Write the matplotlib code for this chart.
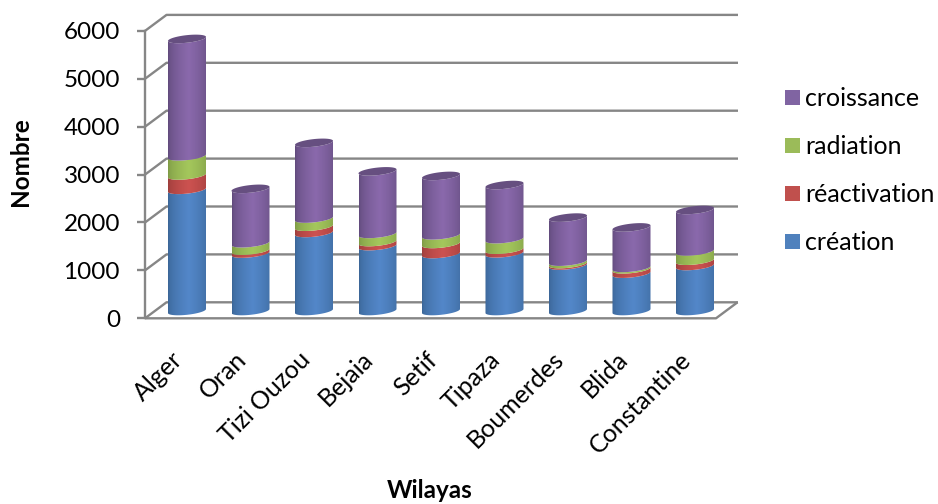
import numpy as np
import matplotlib
matplotlib.use("Agg")
import matplotlib.pyplot as plt
from matplotlib.colors import to_rgb
from matplotlib.patches import Polygon, Rectangle
from matplotlib.path import Path
from matplotlib.transforms import ScaledTranslation

# Enterprise movements per wilaya
wilayas = ["Alger", "Oran", "Tizi Ouzou", "Bejaia", "Setif", "Tipaza",
           "Boumerdes", "Blida", "Constantine"]
creation = [2530, 1200, 1630, 1355, 1190, 1205, 950, 780, 940]
reactivation = [300, 60, 130, 85, 210, 75, 30, 90, 110]
radiation = [400, 155, 170, 170, 180, 220, 50, 30, 195]
croissance = [2450, 1135, 1580, 1305, 1240, 1130, 920, 845, 865]

series_names = ["création", "réactivation", "radiation", "croissance"]
series_values = [creation, reactivation, radiation, croissance]
edge_colors = ["#3A6596", "#9C3D3B", "#7D9945", "#604A7B"]
mid_colors = ["#5387C9", "#CC5250", "#A4C75C", "#8A69AC"]
legend_colors = ["#4F81BD", "#C0504D", "#9BBB59", "#8064A2"]
cap_color = "#664F80"
grid_color = "#868686"

FONT = "Lato"
W, H = 938, 504

fig = plt.figure(figsize=(W / 100, H / 100), dpi=100)
ax = fig.add_axes([145 / W, 1 - 318.3 / H, (738 - 145) / W, (318.3 - 14) / H])

PX_X = 63.5            # pixels per category
PX_Y = 0.0479          # pixels per unit of value
ax.set_xlim((145 - 187) / PX_X, (738 - 187) / PX_X)
ax.set_ylim(0, (318.3 - 14) / PX_Y)

# Depth of the floor and walls, in data units
depth_x = 21.5 / PX_X
depth_y = 16 / PX_Y
front_end = (716 - 187) / PX_X
x0 = ax.get_xlim()[0]

# Walls and floor
line_kw = dict(color=grid_color, lw=1.7, clip_on=False, solid_capstyle="butt", zorder=1)
for v in range(0, 7000, 1000):
    ax.plot([x0, x0 + depth_x, ax.get_xlim()[1]],
            [v, v + depth_y, v + depth_y], **line_kw)
ax.plot([x0, front_end, front_end + depth_x], [0, 0, depth_y], **line_kw)

# Cylinder geometry
radius = 19 / PX_X
minor = 3.8 / PX_Y
tilt = 2.0 / PX_Y
base = 7.3 / PX_Y


def lower_arc(cx, cy, reverse=False):
    t = np.linspace(0, np.pi, 40)
    if reverse:
        t = t[::-1]
    return np.column_stack([cx + radius * np.cos(t),
                            cy + tilt * np.cos(t) - minor * np.sin(t)])


def shaded(edge, mid):
    e, m = np.array(to_rgb(edge)), np.array(to_rgb(mid))
    s = np.linspace(0, 1, 64)
    w = np.clip(1 - np.abs(s - 0.55) / 0.55, 0, 1) ** 0.55
    return (e + (m - e) * w[:, None])[None, :, :]


bottoms = np.zeros(len(wilayas))
for values, edge, mid in zip(series_values, edge_colors, mid_colors):
    values = np.asarray(values, dtype=float)
    tops = bottoms + values
    for i in range(len(wilayas)):
        low = lower_arc(i, bottoms[i] + base)
        high = lower_arc(i, tops[i] + base, reverse=True)
        outline = np.vstack([low, high, low[:1]])
        im = ax.imshow(shaded(edge, mid), aspect="auto", interpolation="bilinear", zorder=3,
                       extent=[i - radius, i + radius, bottoms[i], tops[i] + 2 * base])
        im.set_clip_path(Path(outline), transform=ax.transData)
    bottoms = tops

# Caps of the stacks
for i, total in enumerate(bottoms):
    t = np.linspace(0, 2 * np.pi, 80)
    cy = total + base
    cap = np.column_stack([i + radius * np.cos(t),
                           cy + tilt * np.cos(t) - minor * np.sin(t)])
    ax.add_patch(Polygon(cap, closed=True, fc=cap_color, ec="none", zorder=4))

ax.set_xlim((145 - 187) / PX_X, (738 - 187) / PX_X)
ax.set_ylim(0, (318.3 - 14) / PX_Y)

# Axes
for name in ("top", "right", "bottom"):
    ax.spines[name].set_visible(False)
ax.spines["left"].set_bounds(0, 6000)
ax.spines["left"].set_color(grid_color)
ax.spines["left"].set_linewidth(1.7)
ax.patch.set_visible(False)

ax.set_yticks(range(0, 7000, 1000))
ax.tick_params(axis="y", direction="out", length=5.5, width=1.7, color=grid_color,
               pad=12.5, labelsize=17.5)
ax.set_xticks(range(len(wilayas)))
ax.set_xticklabels(wilayas, rotation=45, ha="right", va="top", rotation_mode="anchor",
                   fontsize=18, fontname=FONT)
ax.tick_params(axis="x", length=0, pad=21)
shift = ScaledTranslation(-16 / 100, 0, fig.dpi_scale_trans)
for lab in ax.get_xticklabels():
    lab.set_transform(lab.get_transform() + shift)
for lab in ax.get_yticklabels():
    lab.set_fontname(FONT)

fig.text(20 / W, 1 - 162 / H, "Nombre", rotation=90, ha="center", va="center",
         fontsize=17.5, fontweight="bold", fontname=FONT)
fig.text(430 / W, 1 - 491 / H, "Wilayas", ha="center", va="center",
         fontsize=17.5, fontweight="bold", fontname=FONT)

handles = [Rectangle((0, 0), 1, 1, fc=c, ec="none") for c in legend_colors]
leg = fig.legend(handles[::-1], series_names[::-1], loc="center left",
                 bbox_to_anchor=(785 / W, 1 - 171 / H), frameon=False,
                 prop={"family": FONT, "size": 18}, handlelength=0.58, handleheight=0.58,
                 handletextpad=0.22, labelspacing=1.0, borderpad=0, borderaxespad=0)

fig.savefig("out.png", dpi=100)
